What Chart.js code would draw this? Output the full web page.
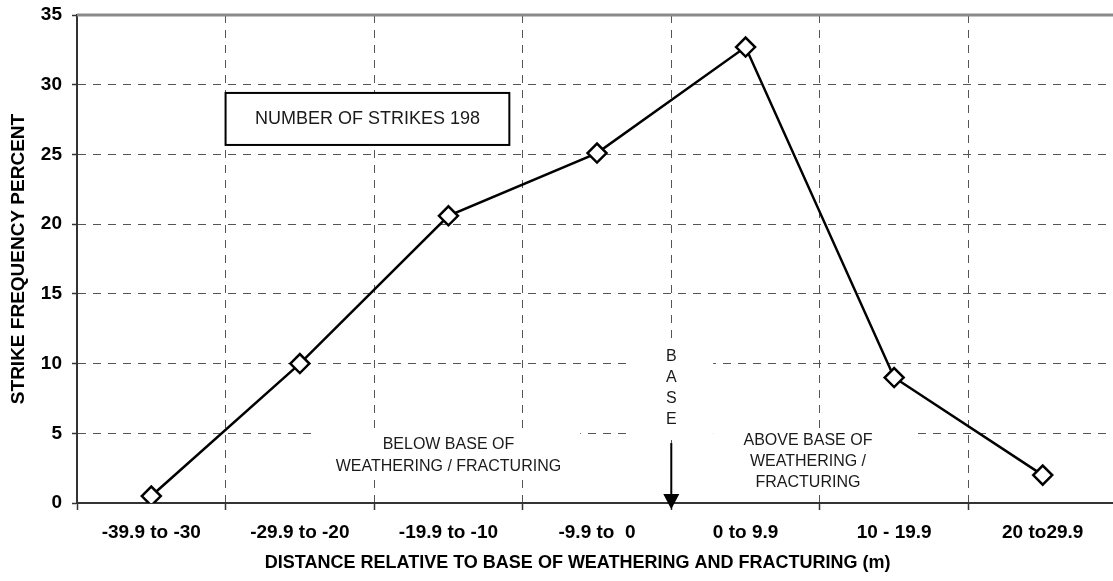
<!DOCTYPE html>
<html>
<head>
<meta charset="utf-8">
<script src="https://cdn.jsdelivr.net/npm/chart.js@4/dist/chart.umd.min.js"></script>
<style>
  html, body { margin: 0; padding: 0; background: #fff; overflow: hidden; }
  #wrap { width: 1120px; height: 581px; }
</style>
</head>
<body>
<div id="wrap"><canvas id="chart" width="1120" height="581"></canvas></div>
<script>
// chart data
const categories = ["-39.9 to -30", "-29.9 to -20", "-19.9 to -10", "-9.9 to  0", "0 to 9.9", "10 - 19.9", "20 to29.9"];
const strikeFreq = [0.5, 10.0, 20.6, 25.1, 32.7, 9.0, 2.0];
const yMin = 0;
const yMax = 35;
const yStep = 5;

const boxLabel = "NUMBER OF STRIKES 198";
const belowLabel = ["BELOW BASE OF", "WEATHERING / FRACTURING"];
const aboveLabel = ["ABOVE BASE OF", "WEATHERING /", "FRACTURING"];
const baseLabel = ["B", "A", "S", "E"];
const xTitle = "DISTANCE RELATIVE TO BASE OF WEATHERING AND FRACTURING (m)";
const yTitle = "STRIKE FREQUENCY PERCENT";

const FONT = "Arial, 'Liberation Sans', sans-serif";

/**
 * text boxes, base arrow and top frame line
 */
const annotations = {
  id: "annotations",
  beforeDatasetsDraw(chart) {
    const { ctx, chartArea: a, scales: { x, y } } = chart;
    const px = (v) => x.getPixelForValue(v);
    const py = (v) => y.getPixelForValue(v);
    ctx.save();

    // grey frame line on top
    ctx.strokeStyle = "#8a8a8a";
    ctx.lineWidth = 3;
    ctx.beginPath();
    ctx.moveTo(a.left, a.top);
    ctx.lineTo(a.right, a.top);
    ctx.stroke();

    // white patches behind the floating text
    ctx.fillStyle = "#fff";
    const patch = (x0, x1, y0, y1) => {
      ctx.fillRect(px(x0), py(y0), px(x1) - px(x0), py(y1) - py(y0));
    };
    patch(1.117, 2.887, 5.24, 1.65);
    patch(3.237, 3.782, 11.48, 4.52);
    patch(3.782, 5.128, 5.24, 0.72);

    // number of strikes box
    const bx0 = px(0.5), bx1 = px(2.41), by0 = py(29.41), by1 = py(25.68);
    ctx.fillRect(bx0, by0, bx1 - bx0, by1 - by0);
    ctx.strokeStyle = "#000";
    ctx.lineWidth = 2;
    ctx.strokeRect(bx0, by0, bx1 - bx0, by1 - by0);

    ctx.fillStyle = "#1a1a1a";
    ctx.textAlign = "center";
    ctx.textBaseline = "middle";
    ctx.font = "18px " + FONT;
    ctx.fillText(boxLabel, (bx0 + bx1) / 2, (by0 + by1) / 2);

    ctx.font = "16px " + FONT;
    const belowY = [4.16, 2.58];
    belowLabel.forEach((t, i) => ctx.fillText(t, px(2.0), py(belowY[i])));
    const aboveY = [4.45, 2.94, 1.43];
    aboveLabel.forEach((t, i) => ctx.fillText(t, px(4.42), py(aboveY[i])));
    const baseY = [10.47, 8.97, 7.46, 5.95];
    baseLabel.forEach((t, i) => ctx.fillText(t, px(3.5), py(baseY[i])));

    // arrow down to the axis
    const ax = px(3.5);
    ctx.strokeStyle = "#000";
    ctx.lineWidth = 2;
    ctx.beginPath();
    ctx.moveTo(ax, py(4.3));
    ctx.lineTo(ax, py(0.6));
    ctx.stroke();
    ctx.fillStyle = "#000";
    ctx.beginPath();
    ctx.moveTo(ax - 8, py(0.65));
    ctx.lineTo(ax + 8, py(0.65));
    ctx.lineTo(ax, py(-0.45));
    ctx.closePath();
    ctx.fill();

    ctx.restore();
  },
  afterDraw(chart) {
    const { ctx, scales: { x } } = chart;
    ctx.save();
    ctx.fillStyle = "#000";
    ctx.textAlign = "center";
    ctx.textBaseline = "middle";
    ctx.font = "bold 18px " + FONT;
    ctx.fillText(xTitle, x.getPixelForValue(2.87), 563);
    ctx.restore();
  },
};

new Chart(document.getElementById("chart"), {
  type: "line",
  data: {
    labels: categories,
    datasets: [
      {
        data: strikeFreq,
        borderColor: "#000",
        borderWidth: 2.5,
        tension: 0,
        pointStyle: "rectRot",
        pointRadius: 9.5,
        pointBorderWidth: 2.5,
        pointBackgroundColor: "#fff",
        pointBorderColor: "#000",
      },
    ],
  },
  options: {
    responsive: false,
    animation: false,
    layout: { autoPadding: false, padding: { top: 15, right: 3, left: 0, bottom: 0 } },
    plugins: {
      legend: { display: false },
      tooltip: { enabled: false },
    },
    scales: {
      x: {
        offset: true,
        grid: {
          offset: true,
          color: "#555",
          lineWidth: 1,
          tickLength: 7,
          tickColor: "#333",
          tickWidth: 1.5,
        },
        border: { color: "#333", width: 2, dash: [8, 7] },
        ticks: {
          color: "#000",
          font: { family: FONT, size: 19, weight: "bold" },
          padding: 11,
          maxRotation: 0,
          autoSkip: false,
        },
        afterFit(scale) {
          scale.height = 78;
          scale.paddingLeft = 0;
          scale.paddingRight = 0;
        },
      },
      y: {
        min: yMin,
        max: yMax,
        grid: {
          color: "#555",
          lineWidth: 1,
          tickLength: 5,
          tickColor: "#333",
          tickWidth: 1.5,
        },
        border: { color: "#333", width: 2, dash: [8, 7] },
        ticks: {
          stepSize: yStep,
          color: "#000",
          font: { family: FONT, size: 19, weight: "bold" },
          padding: 10,
        },
        title: {
          display: true,
          text: yTitle,
          color: "#000",
          font: { family: FONT, size: 19, weight: "bold" },
          padding: { top: 7, bottom: 0 },
        },
        afterFit(scale) {
          scale.width = 77;
          scale.paddingTop = 0;
          scale.paddingBottom = 0;
        },
      },
    },
  },
  plugins: [annotations],
});
</script>
</body>
</html>
